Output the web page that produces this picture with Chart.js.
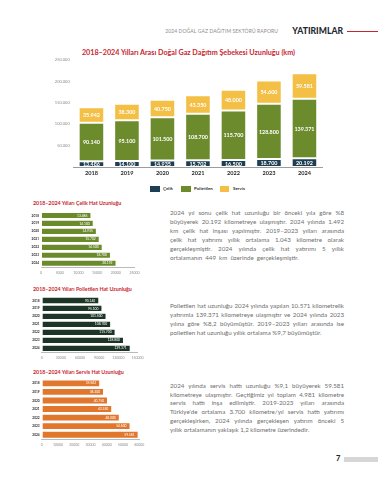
<!DOCTYPE html>
<html lang="tr">
<head>
<meta charset="UTF-8">
<title>Yatırımlar - Doğal Gaz Dağıtım Şebekesi</title>
<script src="https://cdn.jsdelivr.net/npm/chart.js"></script>
<style>
  body { margin: 0; width: 378px; height: 480px; background: #fff; position: relative; overflow: hidden; font-family: Lato, "Open Sans", sans-serif; }
  .abs { position: absolute; }
  .ust-baslik { right: 100px; top: 28px; font-size: 5px; color: #8c8c8c; letter-spacing: 0.1px; line-height: 6px; }
  .bolum { right: 35px; top: 26px; font-size: 8.6px; font-weight: 900; color: #1f2a30; line-height: 10px; }
  .kirmizi-cizgi { left: 347px; top: 31px; width: 31px; height: 1px; background: #c8262f; }
  .baslik { left: 0; width: 377px; top: 47.5px; text-align: center; font-size: 7.2px; font-weight: 700; color: #c8262f; line-height: 9px; }
  .alt-baslik { left: 33px; font-size: 5.3px; font-weight: 700; color: #c8262f; line-height: 7px; }
  .lejant { top: 186px; font-size: 4.5px; color: #333; font-weight: 700; line-height: 6px; }
  .lejant span.kutu { position: absolute; width: 9.5px; height: 6px; }
  .paragraf { left: 170px; width: 174px; font-size: 6.2px; line-height: 8.9px; color: #6e6e6e; }
  .paragraf div { text-align: justify; text-align-last: justify; white-space: nowrap; }
  .paragraf div.son { text-align-last: left; }
  .sayfa { left: 336px; top: 454px; font-size: 7.5px; font-weight: 900; color: #1f2a30; line-height: 9px; }
  .gri { left: 344px; top: 456.5px; width: 34px; height: 5px; background: #d6d6d6; }
  canvas { position: absolute; }
</style>
</head>
<body>
<div class="abs ust-baslik">2024 DOĞAL GAZ DAĞITIM SEKTÖRÜ RAPORU</div>
<div class="abs bolum">YATIRIMLAR</div>
<div class="abs kirmizi-cizgi"></div>

<div class="abs baslik">2018–2024 Yılları Arası Doğal Gaz Dağıtım Şebekesi Uzunluğu (km)</div>
<canvas id="ana" width="340" height="130" style="left:0; top:50px;"></canvas>

<div class="abs lejant" style="left:0; width:378px;">
  <span class="kutu" style="left:150px; background:#1e3e53;"></span><span class="abs" style="left:163px;">Çelik</span>
  <span class="kutu" style="left:181px; background:#6c8b2d;"></span><span class="abs" style="left:194px;">Polietilen</span>
  <span class="kutu" style="left:219.5px; background:#f3bf45;"></span><span class="abs" style="left:233px;">Servis</span>
</div>

<div class="abs alt-baslik" style="top:199.5px;">2018–2024 Yılları Çelik Hat Uzunluğu</div>
<canvas id="celik" width="125" height="72" style="left:28px; top:206px;"></canvas>
<div class="abs paragraf" style="top:209.3px;">
  <div>2024 yıl sonu çelik hat uzunluğu bir önceki yıla göre %8</div>
  <div>büyüyerek 20.192 kilometreye ulaşmıştır. 2024 yılında 1.492</div>
  <div>km çelik hat inşası yapılmıştır. 2019–2023 yılları arasında</div>
  <div>çelik hat yatırımı yıllık ortalama 1.043 kilometre olarak</div>
  <div>gerçekleşmiştir. 2024 yılında çelik hat yatırımı 5 yıllık</div>
  <div class="son" style="word-spacing:1.5px;">ortalamanın 449 km üzerinde gerçekleşmiştir.</div>
</div>

<div class="abs alt-baslik" style="top:285.5px;">2018–2024 Yılları Polietilen Hat Uzunluğu</div>
<canvas id="polietilen" width="125" height="72" style="left:28px; top:291px;"></canvas>
<div class="abs paragraf" style="top:301.9px;">
  <div>Polietilen hat uzunluğu 2024 yılında yapılan 10.571 kilometrelik</div>
  <div>yatırımla 139.371 kilometreye ulaşmıştır ve 2024 yılında 2023</div>
  <div>yılına göre %8,2 büyümüştür. 2019–2023 yılları arasında ise</div>
  <div class="son">polietilen hat uzunluğu yıllık ortalama %9,7 büyümüştür.</div>
</div>

<div class="abs alt-baslik" style="top:369px;">2018–2024 Yılları Servis Hat Uzunluğu</div>
<canvas id="servis" width="125" height="76" style="left:28px; top:374px;"></canvas>
<div class="abs paragraf" style="top:381.6px;">
  <div>2024 yılında servis hattı uzunluğu %9,1 büyüyerek 59.581</div>
  <div>kilometreye ulaşmıştır. Geçtiğimiz yıl toplam 4.981 kilometre</div>
  <div>servis hattı inşa edilmiştir. 2019-2023 yılları arasında</div>
  <div>Türkiye'de ortalama 3.700 kilometre/yıl servis hattı yatırımı</div>
  <div>gerçekleşirken, 2024 yılında gerçekleşen yatırım önceki 5</div>
  <div class="son">yıllık ortalamanın yaklaşık 1,2 kilometre üzerindedir.</div>
</div>

<div class="abs sayfa">7</div>
<div class="abs gri"></div>

<script>
const yillar = ['2018', '2019', '2020', '2021', '2022', '2023', '2024'];
const celik = [13486, 14100, 14935, 15702, 16500, 18700, 20192];
const polietilen = [90140, 95100, 101500, 108700, 115700, 128800, 139371];
const servis = [35942, 38300, 40750, 43350, 48000, 54600, 59581];

const anaEksenMax = 250000, anaEksenAdim = 50000;
const celikEksen = [25000, 5000];
const polietilenEksen = [150000, 30000];
const servisEksen = [60000, 10000];

function fmt(n) {
    return String(n).replace(/\B(?=(\d{3})+(?!\d))/g, '.');
}

// bar icine deger yazan basit eklenti
const degerEtiketi = {
    id: 'degerEtiketi',
    afterDatasetsDraw(chart, args, opts) {
        const ctx = chart.ctx;
        ctx.save();
        ctx.font = opts.font;
        ctx.fillStyle = opts.color;
        ctx.textBaseline = 'middle';
        chart.data.datasets.forEach((ds, i) => {
            chart.getDatasetMeta(i).data.forEach((bar, j) => {
                const p = bar.getProps(['x', 'y', 'base'], true);
                const txt = fmt(ds.data[j]);
                if (opts.yatay) {
                    ctx.textAlign = 'right';
                    ctx.fillText(txt, p.x - opts.pay, p.y);
                } else {
                    ctx.textAlign = 'center';
                    ctx.fillText(txt, p.x, (p.y + p.base) / 2 + 0.5);
                }
            });
        });
        ctx.restore();
    }
};

const kenar = 'rgba(255,255,255,0.55)';

new Chart(document.getElementById('ana'), {
    type: 'bar',
    data: {
        labels: yillar,
        datasets: [
            { label: 'Çelik', data: celik, backgroundColor: '#1e3e53' },
            { label: 'Polietilen', data: polietilen, backgroundColor: '#6c8b2d' },
            { label: 'Servis', data: servis, backgroundColor: '#f3bf45' }
        ].map(d => Object.assign(d, { borderColor: kenar, borderWidth: 1, borderSkipped: false, categoryPercentage: 1, barPercentage: 0.72 }))
    },
    options: {
        responsive: false,
        animation: false,
        layout: { padding: { top: 10, right: 17.8, left: 0, bottom: 0 } },
        plugins: {
            legend: { display: false },
            tooltip: { enabled: false },
            degerEtiketi: { font: 'bold 5.4px Lato', color: '#ffffff' }
        },
        scales: {
            x: {
                stacked: true,
                grid: { display: false, drawTicks: false },
                border: { display: true, color: '#9c9c9c', width: 1 },
                ticks: { font: { family: 'Lato', size: 5.6, weight: 'bold' }, color: '#2a2a2a', padding: 2.5, maxRotation: 0 },
                afterFit(s) { s.height = 13; }
            },
            y: {
                stacked: true,
                min: 0,
                max: anaEksenMax,
                grid: { display: false, drawTicks: false },
                border: { display: false },
                ticks: { stepSize: anaEksenAdim, font: { family: 'Lato', size: 4 }, color: '#8a8a8a', padding: 4, callback: v => v ? fmt(v) : '' },
                afterFit(s) { s.width = 73.7; }
            }
        }
    },
    plugins: [degerEtiketi]
});

function kucukGrafik(id, veri, renk, eksen, solGen, sagPay, ustPay, altYuk, barOran) {
    return new Chart(document.getElementById(id), {
        type: 'bar',
        data: {
            labels: yillar,
            datasets: [{ data: veri, backgroundColor: renk, borderColor: kenar, borderWidth: 1, borderSkipped: false, categoryPercentage: 1, barPercentage: barOran }]
        },
        options: {
            indexAxis: 'y',
            responsive: false,
            animation: false,
            layout: { padding: { top: ustPay, right: sagPay, left: 0, bottom: 0 } },
            plugins: {
                legend: { display: false },
                tooltip: { enabled: false },
                degerEtiketi: { font: '3.3px Lato', color: '#ffffff', yatay: true, pay: 4 }
            },
            scales: {
                x: {
                    min: 0,
                    max: eksen[0],
                    grid: { display: false, drawTicks: false },
                    border: { display: true, color: '#a8a8a8', width: 0.8 },
                    ticks: { stepSize: eksen[1], font: { family: 'Lato', size: 3.5 }, color: '#8a8a8a', padding: 3.5, maxRotation: 0, callback: v => String(v) },
                    afterFit(s) { s.height = altYuk; }
                },
                y: {
                    grid: { display: false, drawTicks: false },
                    border: { display: false },
                    ticks: { font: { family: 'Lato', size: 3.2, weight: 'bold' }, color: '#333', padding: 2, autoSkip: false },
                    afterFit(s) { s.width = solGen; }
                }
            }
        },
        plugins: [degerEtiketi]
    });
}

kucukGrafik('celik', celik, '#6b8a2c', celikEksen, 13, 18.5, 5.5, 10.8, 0.9);
kucukGrafik('polietilen', polietilen, '#1c3527', polietilenEksen, 13.7, 15.5, 5.5, 10.7, 0.92);
kucukGrafik('servis', servis, '#e0772c', servisEksen, 13.7, 13.7, 5.1, 11, 0.92);
</script>
</body>
</html>
